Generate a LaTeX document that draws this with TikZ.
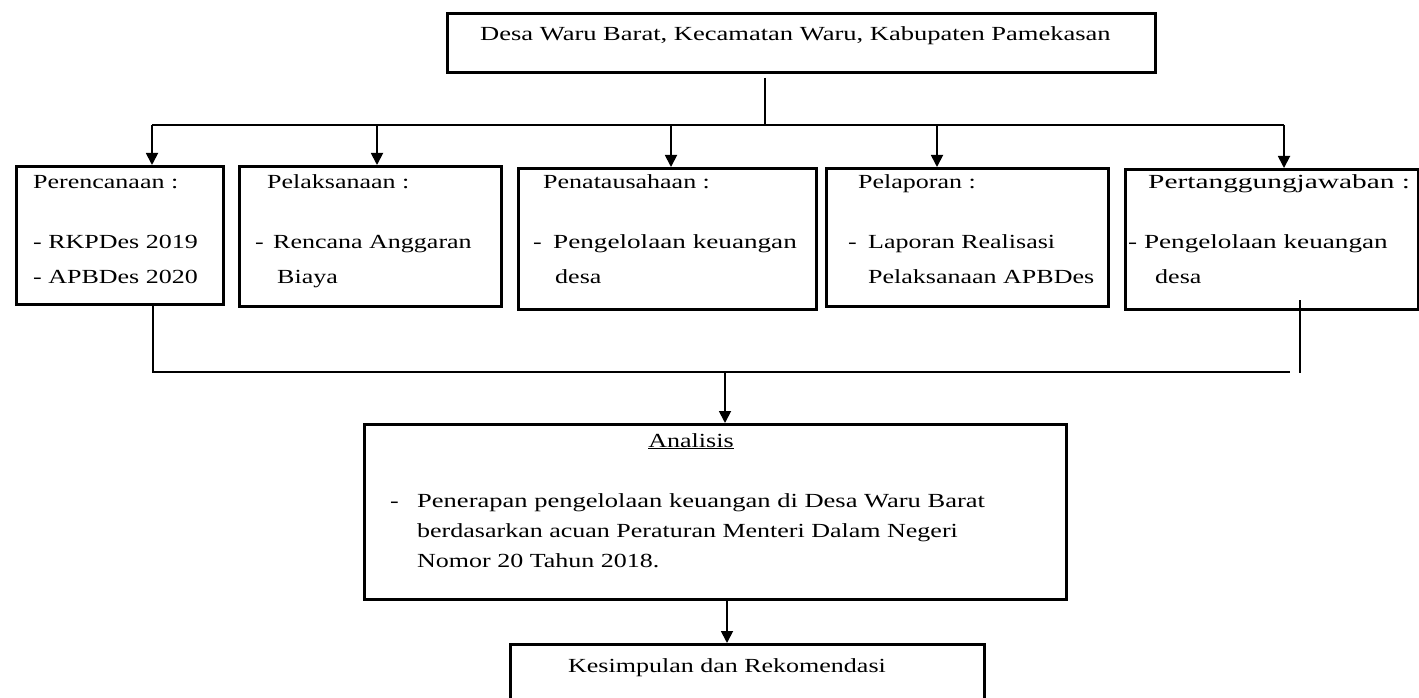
\documentclass[tikz,border=0pt]{standalone}
\usepackage{fontspec}
\setmainfont{Liberation Serif}[FakeStretch=1.3]
\usetikzlibrary{arrows.meta}
\begin{document}
\begin{tikzpicture}[x=1pt,y=-1pt,
  box/.style={draw, line width=2.8pt, inner sep=0pt, anchor=north west},
  txt/.style={anchor=base west, inner sep=0pt, font=\fontsize{20}{24}\selectfont},
  ctxt/.style={anchor=base, inner sep=0pt, font=\fontsize{20}{24}\selectfont},
  conn/.style={line width=1.8pt},
  arr/.style={line width=1.8pt, -{Triangle[length=12pt,width=12pt]}}]
\useasboundingbox (0,0) rectangle (1419,698);
\clip (0,0) rectangle (1419,698);
\fill[white] (0,0) rectangle (1419,698);

% boxes
\node[box, minimum width=708pt, minimum height=59pt] (tb) at (446,12) {};
\node[box, minimum width=207pt, minimum height=138pt] (b1) at (15,165) {};
\node[box, minimum width=262pt, minimum height=140pt] (b2) at (238,165) {};
\node[box, minimum width=298pt, minimum height=141pt] (b3) at (517,167) {};
\node[box, minimum width=282pt, minimum height=138pt] (b4) at (825,167) {};
\node[box, minimum width=293pt, minimum height=140pt] (b5) at (1124,168) {};
\node[box, minimum width=702pt, minimum height=175pt] (an) at (363,423) {};
\node[box, minimum width=474pt, minimum height=90pt] (ks) at (509,643) {};

% texts
\node[txt] (tbt) at (480,41) {\scalebox{1.02}[1]{Desa Waru Barat, Kecamatan Waru, Kabupaten Pamekasan}};

\node[txt] (b1a) at (33,188) {Perencanaan :};
\node[txt] (b1b) at (33,248) {- RKPDes 2019};
\node[txt] (b1c) at (33,283) {- APBDes 2020};

\node[txt] (b2a) at (267,188) {Pelaksanaan :};
\node[txt] (b2d) at (255,248) {-};
\node[txt] (b2b) at (273,248) {Rencana Anggaran};
\node[txt] (b2c) at (277,283) {Biaya};

\node[txt] (b3a) at (543,188) {Penatausahaan :};
\node[txt] (b3d) at (533,248) {-};
\node[txt] (b3b) at (553,248) {\scalebox{1.045}[1]{Pengelolaan keuangan}};
\node[txt] (b3c) at (555,283) {desa};

\node[txt] (b4a) at (858,188) {Pelaporan :};
\node[txt] (b4d) at (848,248) {-};
\node[txt] (b4b) at (868,248) {Laporan Realisasi};
\node[txt] (b4c) at (868,283) {Pelaksanaan APBDes};

\node[txt] (b5a) at (1148,188) {\scalebox{1.13}[1]{Pertanggungjawaban :}};
\node[txt] (b5b) at (1128,248) {\scalebox{1.045}[1]{- Pengelolaan keuangan}};
\node[txt] (b5c) at (1155,283) {desa};

\node[ctxt] (ana) at (691,447) {\underline{Analisis}};
\node[txt] (and) at (390,507) {-};
\node[txt] (anb) at (417,507) {\scalebox{1.02}[1]{Penerapan pengelolaan keuangan di Desa Waru Barat}};
\node[txt] (anc) at (417,537) {berdasarkan acuan Peraturan Menteri Dalam Negeri};
\node[txt] (ane) at (417,567) {Nomor 20 Tahun 2018.};

\node[ctxt] (kst) at (727,672) {Kesimpulan dan Rekomendasi};

% connector points
\coordinate (j0) at (765,125);
\coordinate (t1) at (152,125);
\coordinate (t2) at (377,125);
\coordinate (t3) at (671,125);
\coordinate (t4) at (937,125);
\coordinate (t5) at (1284,125);
\coordinate (c1) at (153,372);
\coordinate (c2) at (1290,372);
\coordinate (c5) at (1300,300);
\coordinate (c5b) at (1300,373);
\coordinate (ca) at (725,372);
\coordinate (cb) at (727,598);

% connectors
\draw[conn, shorten <=4pt] (tb.south -| j0) -- (j0);
\draw[conn] (t1) -- (t5);
\draw[arr] (t1) -- (t1 |- b1.north);
\draw[arr] (t2) -- (t2 |- b2.north);
\draw[arr] (t3) -- (t3 |- b3.north);
\draw[arr] (t4) -- (t4 |- b4.north);
\draw[arr] (t5) -- (t5 |- b5.north);

\draw[conn] (b1.south -| c1) -- (c1) -- (c2);
\draw[conn] (c5) -- (c5b);
\draw[arr] (ca) -- (ca |- an.north);
\draw[arr] (an.south -| cb) -- (cb |- ks.north);
\end{tikzpicture}
\end{document}
